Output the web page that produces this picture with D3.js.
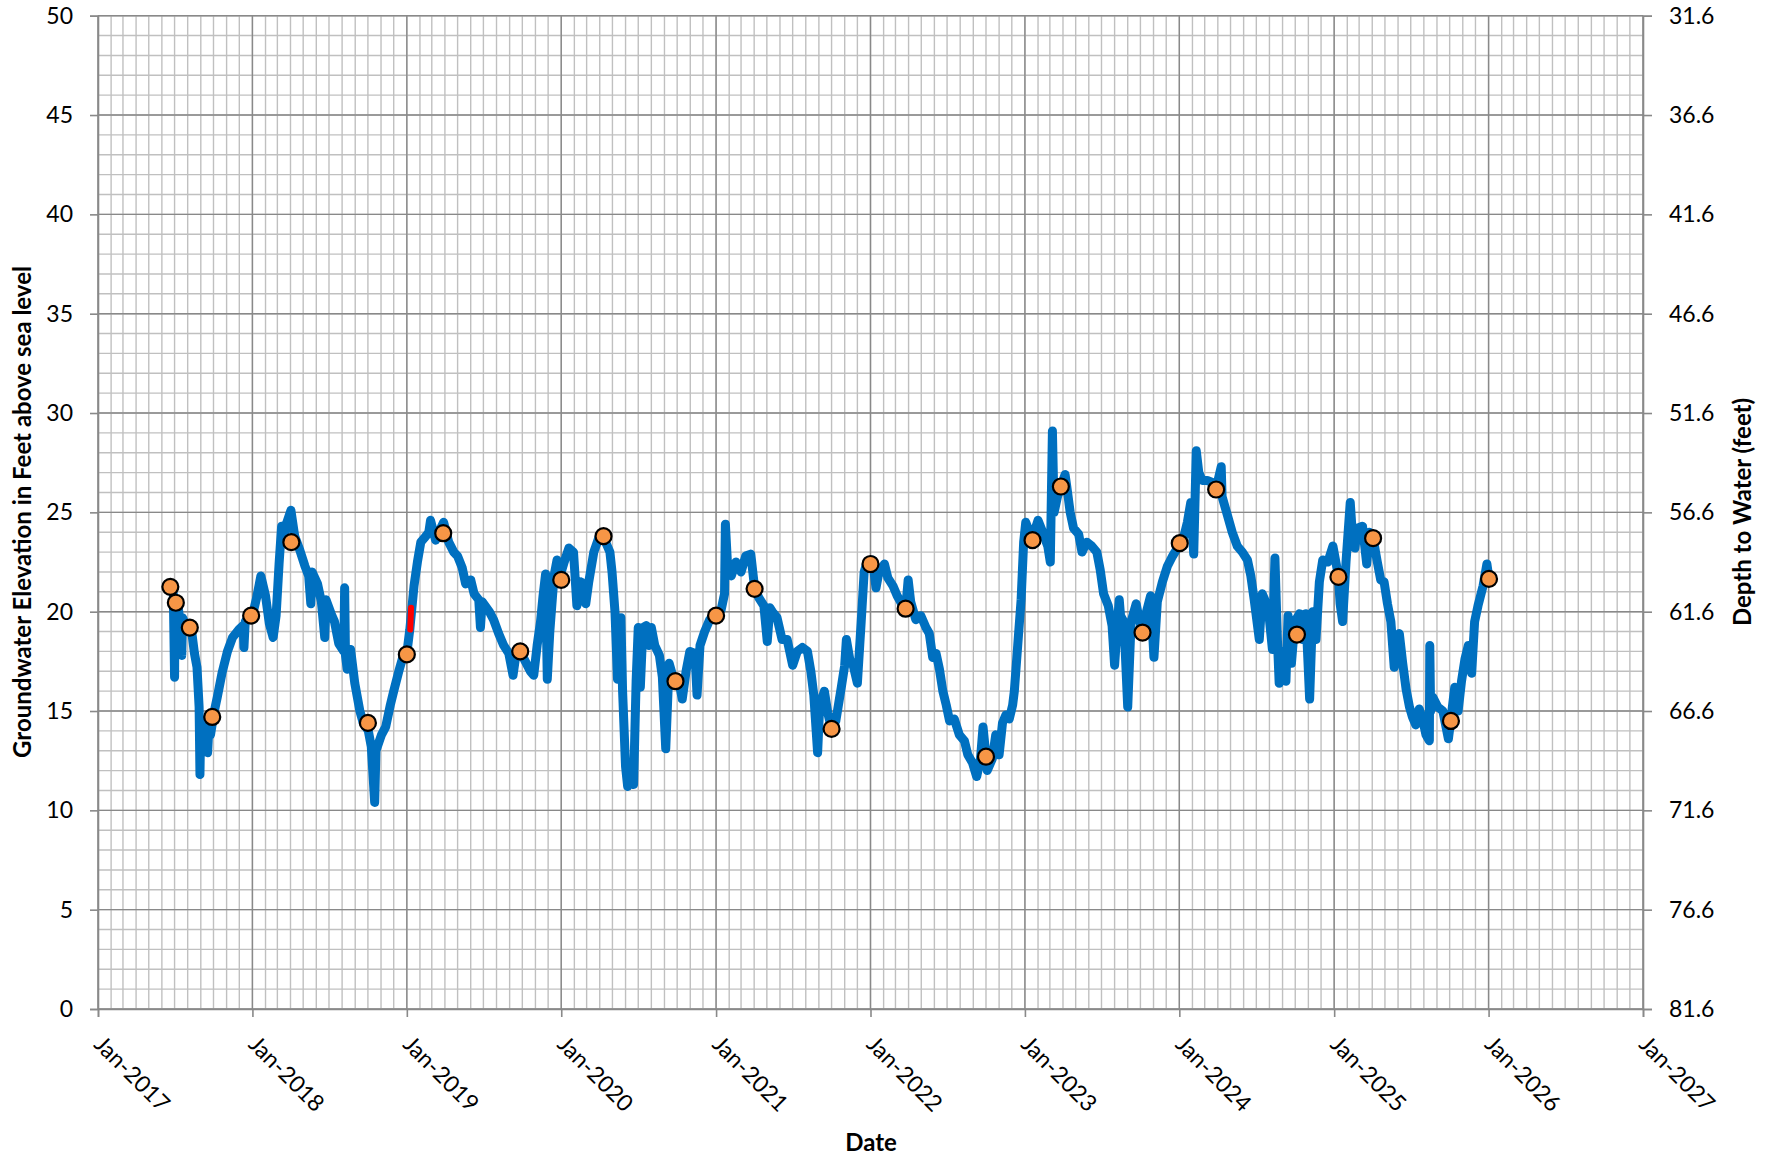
<!DOCTYPE html>
<html><head><meta charset="utf-8">
<script src="https://cdn.jsdelivr.net/npm/d3@7"></script>
<style>
body{margin:0;background:#fff}
svg{display:block}
text{font-family:Lato,"Open Sans",sans-serif;fill:#000}
</style>
</head><body>
<svg id="chart" width="1769" height="1158"></svg>
<script>
// ---------- DATA ----------
const yearTickLabels = ["Jan-2017","Jan-2018","Jan-2019","Jan-2020","Jan-2021","Jan-2022","Jan-2023","Jan-2024","Jan-2025","Jan-2026","Jan-2027"];
const yearTickDates = ["2017-01-01","2018-01-01","2019-01-01","2020-01-01","2021-01-01","2022-01-01","2023-01-01","2024-01-01","2025-01-01","2026-01-01","2027-01-01"];
const elevationTicks = [0,5,10,15,20,25,30,35,40,45,50];
const depthTicks = [81.6,76.6,71.6,66.6,61.6,56.6,51.6,46.6,41.6,36.6,31.6];

// continuous transducer record (groundwater elevation, ft)
const levelDates = [
"2017-06-24","2017-06-28","2017-07-01","2017-07-02","2017-07-09","2017-07-14","2017-07-18","2017-07-20","2017-07-26","2017-08-03","2017-08-11","2017-08-17","2017-08-23","2017-08-28","2017-08-30","2017-09-01","2017-09-05","2017-09-09","2017-09-14","2017-09-17","2017-09-20","2017-09-24","2017-10-02","2017-10-10","2017-10-21","2017-11-03","2017-11-15","2017-11-30","2017-12-10","2017-12-12","2017-12-15","2017-12-25",
"2018-01-02","2018-01-11","2018-01-21","2018-02-01","2018-02-10","2018-02-19","2018-02-26","2018-03-05","2018-03-11","2018-03-16","2018-03-22","2018-04-02","2018-04-11","2018-04-23","2018-05-05","2018-05-14","2018-05-19","2018-05-22","2018-06-04","2018-06-13","2018-06-21","2018-06-24","2018-07-06","2018-07-14","2018-07-24","2018-08-05","2018-08-07","2018-08-09","2018-08-13","2018-08-21","2018-08-31","2018-09-12","2018-09-20","2018-10-02","2018-10-09","2018-10-17","2018-10-20","2018-11-02","2018-11-12","2018-11-23","2018-12-01","2018-12-13","2018-12-25",
"2019-01-01","2019-01-08","2019-01-18","2019-01-26","2019-02-03","2019-02-11","2019-02-22","2019-02-26","2019-03-10","2019-03-20","2019-03-29","2019-04-10","2019-04-22","2019-05-01","2019-05-12","2019-05-20","2019-06-01","2019-06-09","2019-06-20","2019-06-24","2019-06-28","2019-07-15","2019-07-25","2019-08-06","2019-08-18","2019-08-30","2019-09-09","2019-09-15","2019-09-26","2019-10-08","2019-10-20","2019-10-28","2019-11-05","2019-11-13","2019-11-19","2019-11-25","2019-11-29","2019-12-05","2019-12-15","2019-12-22",
"2020-01-01","2020-01-08","2020-01-19","2020-01-30","2020-02-07","2020-02-17","2020-02-28","2020-03-06","2020-03-18","2020-03-31","2020-04-10","2020-04-15","2020-04-25","2020-04-30","2020-05-07","2020-05-13","2020-05-21","2020-05-25","2020-06-01","2020-06-06","2020-06-14","2020-06-20","2020-06-26","2020-07-01","2020-07-06","2020-07-12","2020-07-20","2020-07-26","2020-08-01","2020-08-09","2020-08-20","2020-08-27","2020-09-04","2020-09-12","2020-09-20","2020-09-27","2020-10-07","2020-10-13","2020-10-22","2020-10-31","2020-11-12","2020-11-17","2020-11-24","2020-12-05","2020-12-17",
"2021-01-01","2021-01-13","2021-01-21","2021-01-23","2021-01-29","2021-02-06","2021-02-17","2021-03-01","2021-03-12","2021-03-24","2021-04-02","2021-04-12","2021-04-24","2021-05-02","2021-05-08","2021-05-14","2021-05-25","2021-06-06","2021-06-18","2021-07-01","2021-07-12","2021-07-24","2021-08-05","2021-08-13","2021-08-20","2021-08-29","2021-09-03","2021-09-14","2021-09-22","2021-10-01","2021-10-11","2021-10-24","2021-11-01","2021-11-05","2021-11-13","2021-11-21","2021-12-01","2021-12-10","2021-12-17","2021-12-24",
"2022-01-01","2022-01-06","2022-01-14","2022-01-21","2022-02-03","2022-02-11","2022-02-23","2022-03-05","2022-03-13","2022-03-25","2022-03-31","2022-04-06","2022-04-18","2022-04-30","2022-05-12","2022-05-20","2022-05-28","2022-06-05","2022-06-13","2022-06-21","2022-06-29","2022-07-07","2022-07-18","2022-07-30","2022-08-11","2022-08-19","2022-08-30","2022-09-09","2022-09-18","2022-09-24","2022-10-01","2022-10-04","2022-10-16","2022-10-24","2022-11-01","2022-11-09","2022-11-17","2022-11-25","2022-12-03","2022-12-07","2022-12-15","2022-12-23","2022-12-29",
"2023-01-03","2023-01-19","2023-01-23","2023-02-01","2023-02-12","2023-02-24","2023-03-02","2023-03-07","2023-03-11","2023-03-19","2023-03-27","2023-04-01","2023-04-06","2023-04-10","2023-04-18","2023-04-26","2023-05-08","2023-05-16","2023-05-27","2023-06-08","2023-06-20","2023-06-28","2023-07-06","2023-07-17","2023-07-26","2023-08-01","2023-08-07","2023-08-12","2023-08-15","2023-08-23","2023-09-01","2023-09-09","2023-09-21","2023-09-28","2023-10-06","2023-10-13","2023-10-25","2023-11-02","2023-11-10","2023-11-22","2023-12-04","2023-12-16",
"2024-01-02","2024-01-12","2024-01-20","2024-01-28","2024-02-04","2024-02-10","2024-02-16","2024-02-24","2024-03-07","2024-03-19","2024-03-28","2024-04-09","2024-04-11","2024-04-23","2024-05-05","2024-05-17","2024-05-29","2024-06-10","2024-06-18","2024-06-26","2024-07-08","2024-07-15","2024-07-23","2024-07-31","2024-08-08","2024-08-14","2024-08-20","2024-08-24","2024-09-01","2024-09-09","2024-09-14","2024-09-18","2024-09-22","2024-09-30","2024-10-11","2024-10-18","2024-10-26","2024-11-04","2024-11-11","2024-11-19","2024-11-27","2024-12-05","2024-12-17","2024-12-29",
"2025-01-11","2025-01-15","2025-01-21","2025-01-29","2025-02-08","2025-02-13","2025-02-19","2025-02-25","2025-03-09","2025-03-19","2025-03-25","2025-04-03","2025-04-13","2025-04-21","2025-04-29","2025-05-07","2025-05-15","2025-05-23","2025-05-27","2025-06-04","2025-06-12","2025-06-20","2025-06-28","2025-07-05","2025-07-13","2025-07-21","2025-07-29","2025-08-06","2025-08-14","2025-08-15","2025-08-17","2025-08-22","2025-09-03","2025-09-15","2025-09-28","2025-10-04","2025-10-13","2025-10-21","2025-10-29","2025-11-06","2025-11-14","2025-11-22","2025-11-29","2025-12-07","2025-12-19","2025-12-28","2026-01-01"
];
const levelValues = [
21.2,20.9,16.7,20.6,20.3,19.5,17.8,19.7,19.4,19.2,18.9,17.9,17.2,15.2,11.8,14.6,13.9,13.5,14.2,12.9,14.1,13.8,14.9,15.7,16.9,18.0,18.7,19.1,19.3,18.2,19.5,19.8,
19.9,20.7,21.8,20.8,19.4,18.7,19.8,22.4,24.3,23.6,24.4,25.1,23.8,23.1,22.3,21.8,20.4,22.0,21.4,20.5,18.7,20.6,19.9,19.5,18.4,18.0,21.2,17.8,17.1,18.1,16.4,15.0,14.4,14.0,13.2,10.4,13.0,13.8,14.2,15.3,16.0,17.0,17.9,
17.9,19.1,21.3,22.5,23.5,23.7,24.0,24.6,23.6,24.1,24.5,23.5,23.0,22.8,22.2,21.4,21.6,20.9,20.6,19.2,20.5,20.0,19.6,18.9,18.3,17.9,16.8,17.7,18.0,17.5,17.0,16.8,18.3,19.5,20.8,21.9,16.6,19.0,21.8,22.6,
22.0,22.5,23.2,23.0,20.3,21.5,20.4,21.5,23.0,23.8,23.8,23.5,23.0,22.0,20.0,16.6,19.7,16.0,12.2,11.2,11.8,11.3,16.5,19.2,16.2,19.2,19.3,18.3,19.2,18.3,17.8,16.7,13.1,17.4,16.8,16.5,16.3,15.6,17.0,18.0,17.9,15.8,18.3,19.0,19.6,
19.8,20.1,20.9,24.4,22.0,21.8,22.5,22.0,22.8,22.9,21.2,20.7,20.3,18.5,20.2,20.0,19.7,18.6,18.6,17.3,18.0,18.2,18.0,17.0,15.8,12.9,15.3,16.0,14.9,14.1,14.5,16.2,17.3,18.6,17.6,17.3,16.4,19.5,22.0,22.5,
22.4,22.6,21.2,22.0,22.4,21.7,21.3,20.8,20.5,20.1,21.6,20.5,19.6,19.8,19.2,18.9,17.7,17.9,17.1,16.0,15.3,14.5,14.6,13.8,13.5,12.8,12.4,11.7,12.6,14.2,12.7,12.0,12.6,13.8,12.8,14.4,14.8,14.6,15.3,16.0,18.3,20.6,23.5,
24.5,23.6,24.0,24.6,24.0,23.3,22.5,29.1,25.0,25.8,26.3,26.6,26.9,26.3,25.0,24.2,23.9,23.0,23.5,23.3,23.0,22.1,20.9,20.3,19.3,17.3,19.2,20.6,19.8,19.5,15.2,19.5,20.4,19.6,19.0,19.8,20.8,17.7,20.5,21.5,22.3,22.8,
23.4,23.8,24.5,25.5,22.9,28.1,27.0,26.6,26.6,26.5,26.2,27.3,25.8,24.9,24.0,23.3,23.0,22.6,21.8,20.6,18.6,20.9,20.5,19.8,18.1,22.7,18.5,16.4,18.0,16.5,19.8,18.5,17.4,19.5,19.9,18.6,19.9,15.6,20.0,18.6,21.5,22.6,22.5,23.3,
21.8,20.4,19.5,22.5,25.5,23.9,23.2,24.2,24.3,22.4,24.0,23.7,22.5,21.6,21.5,20.4,19.5,17.2,18.5,18.9,17.4,16.1,15.2,14.7,14.3,15.1,14.6,13.8,13.5,18.3,15.0,15.7,15.2,15.0,13.6,14.6,16.2,15.0,16.5,17.6,18.3,16.9,19.5,20.3,21.3,22.4,21.8
];

// flagged (questionable) readings
const flaggedDates = ["2019-01-09","2019-01-11"];
const flaggedValues = [19.1, 20.2];

// manual measurements
const manualDates = ["2017-06-21","2017-07-04","2017-08-06","2017-09-28","2017-12-29","2018-04-03","2018-10-01","2019-01-01","2019-03-28","2019-09-26","2020-01-01","2020-04-10","2020-09-27","2021-01-01","2021-04-02","2021-10-01","2022-01-01","2022-03-25","2022-10-01","2023-01-19","2023-03-27","2023-10-06","2024-01-02","2024-03-28","2024-10-05","2025-01-11","2025-04-03","2025-10-04","2026-01-02"];
const manualValues = [21.25,20.45,19.2,14.7,19.8,23.5,14.4,17.85,23.95,18.0,21.6,23.8,16.5,19.8,21.15,14.1,22.4,20.15,12.7,23.6,26.3,18.95,23.45,26.15,18.85,21.75,23.7,14.5,21.65];

// ---------- CHART ----------
const parse = d3.utcParse("%Y-%m-%d");
const L = 98, R = 1643, T = 15.7, B = 1009;
const svg = d3.select("#chart");
const x = d3.scaleUtc().domain([parse("2017-01-01"), parse("2027-01-01")]).range([L, R]);
const y = d3.scaleLinear().domain([0, 50]).range([B, T]);
const yDepth = d3.scaleLinear().domain([81.6, 31.6]).range([B, T]);

const minorC = "#c0c0c0", majorC = "#898989";
const g = svg.append("g");
// minor grid
g.selectAll("line.vm").data(d3.utcMonth.range(parse("2017-01-01"), parse("2027-01-02")))
 .join("line").attr("x1", d => x(d)).attr("x2", d => x(d)).attr("y1", T).attr("y2", B)
 .attr("stroke", minorC).attr("stroke-width", 1.4);
g.selectAll("line.hm").data(d3.range(0, 51))
 .join("line").attr("x1", L).attr("x2", R).attr("y1", d => y(d)).attr("y2", d => y(d))
 .attr("stroke", minorC).attr("stroke-width", 1.4);
// major grid
g.append("g").selectAll("line").data(yearTickDates.map(parse))
 .join("line").attr("x1", d => x(d)).attr("x2", d => x(d)).attr("y1", T).attr("y2", B)
 .attr("stroke", majorC).attr("stroke-width", 1.4);
g.append("g").selectAll("line").data(elevationTicks)
 .join("line").attr("x1", L).attr("x2", R).attr("y1", d => y(d)).attr("y2", d => y(d))
 .attr("stroke", majorC).attr("stroke-width", 1.4);

// axes
const fs = 23;
const ax = svg.append("g").attr("transform", `translate(${L},0)`)
  .call(d3.axisLeft(y).tickValues(elevationTicks).tickSize(8).tickPadding(17).tickFormat(d3.format("d")));
const axR = svg.append("g").attr("transform", `translate(${R},0)`)
  .call(d3.axisRight(yDepth).tickValues(depthTicks).tickSize(9).tickPadding(17).tickFormat(d3.format(".1f")));
const axB = svg.append("g").attr("transform", `translate(0,${B})`)
  .call(d3.axisBottom(x).tickValues(yearTickDates.map(parse)).tickSize(8).tickFormat((d,i) => yearTickLabels[i]));
[ax, axR, axB].forEach(a => {
  a.selectAll("path.domain").attr("stroke", majorC).attr("stroke-width", 1.6);
  a.selectAll(".tick line").attr("stroke", majorC).attr("stroke-width", 1.6);
  a.selectAll("text").attr("font-size", fs).attr("font-family", "Lato").attr("fill", "#000");
});
axB.selectAll(".tick text")
  .attr("text-anchor", "start").attr("x", 0).attr("y", 0).attr("dy", "0.35em")
  .attr("transform", "translate(0,31) rotate(45)");

// axis titles
svg.append("text").attr("transform", "translate(23,512) rotate(-90)")
  .attr("text-anchor", "middle").attr("dy", "0.35em").attr("font-size", 24).attr("font-weight", "bold")
  .text("Groundwater Elevation in Feet above sea level");
svg.append("text").attr("transform", "translate(1743,512) rotate(-90)")
  .attr("text-anchor", "middle").attr("dy", "0.35em").attr("font-size", 24).attr("font-weight", "bold")
  .text("Depth to Water (feet)");
svg.append("text").attr("x", 871).attr("y", 1143)
  .attr("text-anchor", "middle").attr("dy", "0.35em").attr("font-size", 24).attr("font-weight", "bold")
  .text("Date");

// series
const line = d3.line().x(d => x(d.date)).y(d => y(d.v));
const level = levelDates.map((d, i) => ({date: parse(d), v: levelValues[i]}));
svg.append("path").datum(level).attr("d", line)
  .attr("fill", "none").attr("stroke", "#0070C0").attr("stroke-width", 9)
  .attr("stroke-linejoin", "round").attr("stroke-linecap", "round");
const flagged = flaggedDates.map((d, i) => ({date: parse(d), v: flaggedValues[i]}));
svg.append("path").datum(flagged).attr("d", line)
  .attr("fill", "none").attr("stroke", "#FF0000").attr("stroke-width", 6)
  .attr("stroke-linecap", "round");
const manual = manualDates.map((d, i) => ({date: parse(d), v: manualValues[i]}));
svg.append("g").selectAll("circle").data(manual).join("circle")
  .attr("cx", d => x(d.date)).attr("cy", d => y(d.v)).attr("r", 8)
  .attr("fill", "#F79646").attr("stroke", "#000").attr("stroke-width", 2.2);
</script>
</body></html>
